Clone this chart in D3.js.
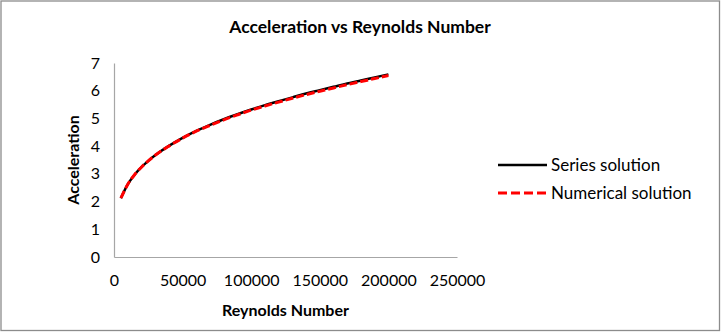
<!DOCTYPE html>
<html>
<head>
<meta charset="utf-8">
<script src="https://cdn.jsdelivr.net/npm/d3@7"></script>
<style>
  body { margin: 0; background: #fff; }
  svg { display: block; font-family: Lato, "Open Sans", sans-serif; }
</style>
</head>
<body>
<svg id="chart" width="721" height="332"></svg>
<script>
// values
const reynolds = [5000, 10000, 15000, 20000, 25000, 30000, 40000, 50000, 60000, 70000, 80000,
  90000, 100000, 110000, 120000, 130000, 140000, 150000, 160000, 170000, 180000, 190000, 200000];
const seriesSolution = [2.12, 2.62, 2.97, 3.24, 3.47, 3.67, 4.01, 4.30, 4.55, 4.77, 4.97,
  5.15, 5.32, 5.48, 5.62, 5.76, 5.90, 6.02, 6.14, 6.26, 6.37, 6.48, 6.59];
const numericalSolution = [2.12, 2.62, 2.97, 3.24, 3.47, 3.67, 4.00, 4.29, 4.54, 4.75, 4.95,
  5.13, 5.30, 5.45, 5.59, 5.73, 5.86, 5.98, 6.10, 6.22, 6.33, 6.44, 6.55];
const xTicks = [0, 50000, 100000, 150000, 200000, 250000];
const yTicks = [0, 1, 2, 3, 4, 5, 6, 7];
const seriesNames = ["Series solution", "Numerical solution"];

const width = 721, height = 332;
const margin = { top: 63, right: 264, bottom: 75, left: 114 };

const svg = d3.select("#chart");

// outer frame
svg.append("rect")
  .attr("x", 1).attr("y", 1)
  .attr("width", width - 2.5).attr("height", height - 2.5)
  .attr("fill", "#fff").attr("stroke", "#8c8c8c").attr("stroke-width", 1.3);

let x = d3.scaleLinear().domain([0, 250000]).range([margin.left, width - margin.right]);
let y = d3.scaleLinear().domain([0, 7]).range([height - margin.bottom, margin.top]);

svg.append("text")
  .attr("x", 360).attr("y", 33)
  .attr("text-anchor", "middle")
  .attr("font-size", 17.5).attr("font-weight", "bold")
  .text("Acceleration vs Reynolds Number");

let gx = svg.append("g")
  .attr("transform", `translate(0,${y(0)})`)
  .call(d3.axisBottom(x).tickValues(xTicks).tickSize(0).tickPadding(18).tickFormat(d3.format("d")));
let gy = svg.append("g")
  .attr("transform", `translate(${x(0)},0)`)
  .call(d3.axisLeft(y).tickValues(yTicks).tickSize(0).tickPadding(14).tickFormat(d3.format("d")));

[gx, gy].forEach(g => {
  g.select(".domain").attr("stroke", "#a6a6a6").attr("stroke-width", 1.2);
  g.selectAll("text").attr("font-size", 16).attr("fill", "#000").attr("font-family", "Lato, sans-serif");
});

svg.append("text")
  .attr("x", x(125000)).attr("y", 316)
  .attr("text-anchor", "middle")
  .attr("font-size", 16).attr("font-weight", "bold")
  .text("Reynolds Number");

svg.append("text")
  .attr("transform", `translate(79,${y(3.5)}) rotate(-90)`)
  .attr("text-anchor", "middle")
  .attr("font-size", 16).attr("font-weight", "bold")
  .text("Acceleration");

const line = d3.line()
  .x(d => x(d[0]))
  .y(d => y(d[1]))
  .curve(d3.curveMonotoneX);

svg.append("path")
  .datum(reynolds.map((r, i) => [r, seriesSolution[i]]))
  .attr("d", line)
  .attr("fill", "none").attr("stroke", "#000").attr("stroke-width", 2.5);

svg.append("path")
  .datum(reynolds.map((r, i) => [r, numericalSolution[i]]))
  .attr("d", line)
  .attr("fill", "none").attr("stroke", "#ff0000").attr("stroke-width", 3)
  .attr("stroke-dasharray", "8,3");

// legend
const legend = svg.append("g").attr("transform", "translate(498,165)");
seriesNames.forEach((name, i) => {
  let row = legend.append("g").attr("transform", `translate(0,${i * 28})`);
  row.append("line")
    .attr("x1", 0).attr("x2", 49)
    .attr("stroke", i === 0 ? "#000" : "#ff0000")
    .attr("stroke-width", i === 0 ? 2.5 : 3)
    .attr("stroke-dasharray", i === 0 ? null : "9,4");
  row.append("text")
    .attr("x", 53).attr("dy", "0.35em")
    .attr("font-size", 17)
    .text(name);
});
</script>
</body>
</html>
